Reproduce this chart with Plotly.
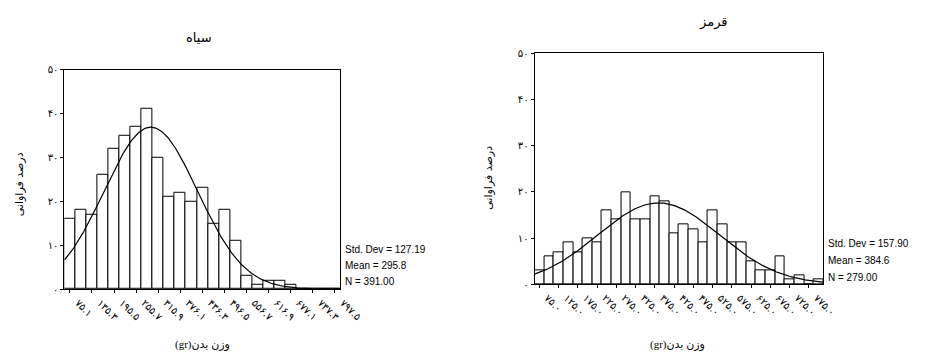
import numpy as np
import plotly.graph_objects as go

# ---------------- data ----------------
# Left chart (سیاه)
black_centers_start = 75.1
black_bin_width = 30.1
black_counts = [16, 18, 17, 26, 32, 35, 37, 41, 30, 21, 22, 20, 23, 15, 18, 11,
                3, 1, 2, 2, 1, 0, 0, 0, 0]
black_tick_vals = [75.1, 135.3, 195.5, 255.7, 315.9, 376.1, 436.3, 496.5,
                   556.7, 616.9, 677.1, 737.3, 797.5]
black_tick_text = ["۷۵.۱", "۱۳۵.۳", "۱۹۵.۵", "۲۵۵.۷", "۳۱۵.۹", "۳۷۶.۱", "۴۳۶.۳",
                   "۴۹۶.۵", "۵۵۶.۷", "۶۱۶.۹", "۶۷۷.۱", "۷۳۷.۳", "۷۹۷.۵"]
black_mean, black_std, black_n = 295.8, 127.19, 391

# Right chart (قرمز)
red_centers_start = 75.0
red_bin_width = 25.0
red_counts = [3, 6, 7, 9, 7, 10, 9, 16, 14, 20, 14, 14, 19, 18, 11, 13, 12, 9,
              16, 13, 9, 9, 5, 3, 3, 6, 1, 2, 0, 1]
red_tick_vals = [75, 125, 175, 225, 275, 325, 375, 425, 475, 525, 575, 625,
                 675, 725, 775]
red_tick_text = ["۷۵.۰", "۱۲۵.۰", "۱۷۵.۰", "۲۲۵.۰", "۲۷۵.۰", "۳۲۵.۰", "۳۷۵.۰",
                 "۴۲۵.۰", "۴۷۵.۰", "۵۲۵.۰", "۵۷۵.۰", "۶۲۵.۰", "۶۷۵.۰",
                 "۷۲۵.۰", "۷۷۵.۰"]
red_mean, red_std, red_n = 384.6, 157.90, 279

y_tick_vals = [0, 10, 20, 30, 40, 50]
y_tick_text = ["۰", "۱۰", "۲۰", "۳۰", "۴۰", "۵۰"]

W, H = 939, 356
FA = "DejaVu Sans"
EN = "Liberation Sans, Arial"
SERIF = "Liberation Serif, DejaVu Sans"


def centers(start, width, n):
    return [start + i * width for i in range(n)]


def normal_curve(lo, hi, mean, std, n, bw):
    xs = np.linspace(lo, hi, 300)
    ys = n * bw / (std * np.sqrt(2 * np.pi)) * np.exp(-0.5 * ((xs - mean) / std) ** 2)
    return xs, ys


fig = go.Figure()

bx = centers(black_centers_start, black_bin_width, len(black_counts))
b_lo = black_centers_start - black_bin_width / 2
b_hi = b_lo + black_bin_width * len(black_counts)
fig.add_trace(go.Bar(x=bx, y=black_counts, width=black_bin_width,
                     marker=dict(color="white", line=dict(color="black", width=1)),
                     xaxis="x", yaxis="y", showlegend=False))
cx, cy = normal_curve(b_lo, b_hi, black_mean, black_std, black_n, black_bin_width)
fig.add_trace(go.Scatter(x=cx, y=cy, mode="lines", line=dict(color="black", width=1.2),
                         xaxis="x", yaxis="y", showlegend=False))

rx = centers(red_centers_start, red_bin_width, len(red_counts))
r_lo = red_centers_start - red_bin_width / 2
r_hi = r_lo + red_bin_width * len(red_counts)
fig.add_trace(go.Bar(x=rx, y=red_counts, width=red_bin_width,
                     marker=dict(color="white", line=dict(color="black", width=1)),
                     xaxis="x2", yaxis="y2", showlegend=False))
cx2, cy2 = normal_curve(r_lo, r_hi, red_mean, red_std, red_n, red_bin_width)
fig.add_trace(go.Scatter(x=cx2, y=cy2, mode="lines", line=dict(color="black", width=1.2),
                         xaxis="x2", yaxis="y2", showlegend=False))


def px_x(p):
    return p / W


def px_y(p):
    return 1 - p / H


axis_common = dict(showgrid=False, zeroline=False, showline=True, linecolor="black",
                   linewidth=1, mirror=True, ticks="outside", ticklen=3,
                   tickcolor="black", tickfont=dict(family=FA, size=10, color="black"))

fig.update_layout(
    width=W, height=H, margin=dict(l=0, r=0, t=0, b=0),
    paper_bgcolor="white", plot_bgcolor="white", bargap=0,
    xaxis=dict(domain=[px_x(66), px_x(349)], range=[b_lo, b_hi], anchor="y",
               tickvals=black_tick_vals, ticktext=black_tick_text, tickangle=45,
               ticklabelshift=8, **axis_common),
    yaxis=dict(domain=[px_y(293), px_y(66)], range=[0, 50], anchor="x",
               tickvals=y_tick_vals, ticktext=y_tick_text, **axis_common),
    xaxis2=dict(domain=[px_x(548), px_x(844)], range=[r_lo, r_hi], anchor="y2",
                tickvals=red_tick_vals, ticktext=red_tick_text, tickangle=45,
                ticklabelshift=8, **axis_common),
    yaxis2=dict(domain=[px_y(288), px_y(49)], range=[0, 50], anchor="x2",
                tickvals=y_tick_vals, ticktext=y_tick_text, **axis_common),
)

ann = []


def add_text(x, y, text, size=10, family=FA, xanchor="center", angle=0):
    ann.append(dict(x=px_x(x), y=px_y(y), xref="paper", yref="paper", text=text,
                    showarrow=False, xanchor=xanchor, yanchor="middle",
                    textangle=angle, font=dict(family=family, size=size, color="black")))


# titles
add_text(204, 33, "سیاه", size=13)
add_text(731, 17, "قرمز", size=13)
# y titles
add_text(20, 185, "درصد فراوانی", size=11, angle=-90)
add_text(500, 178, "درصد فراوانی", size=11, angle=-90)
# x titles
add_text(208, 350, "(gr)وزن بدن", size=11, family=SERIF)
add_text(695, 350, "(gr)وزن بدن", size=11, family=SERIF)
# stats
add_text(352, 252, f"Std. Dev = {black_std:.2f}", size=10, family=EN, xanchor="left")
add_text(352, 269, f"Mean = {black_mean}", size=10, family=EN, xanchor="left")
add_text(352, 285, f"N = {black_n:.2f}", size=10, family=EN, xanchor="left")
add_text(847, 246, f"Std. Dev = {red_std:.2f}", size=10, family=EN, xanchor="left")
add_text(847, 263, f"Mean = {red_mean}", size=10, family=EN, xanchor="left")
add_text(847, 281, f"N = {red_n:.2f}", size=10, family=EN, xanchor="left")

fig.update_layout(annotations=ann)
fig.write_html("out.html")
